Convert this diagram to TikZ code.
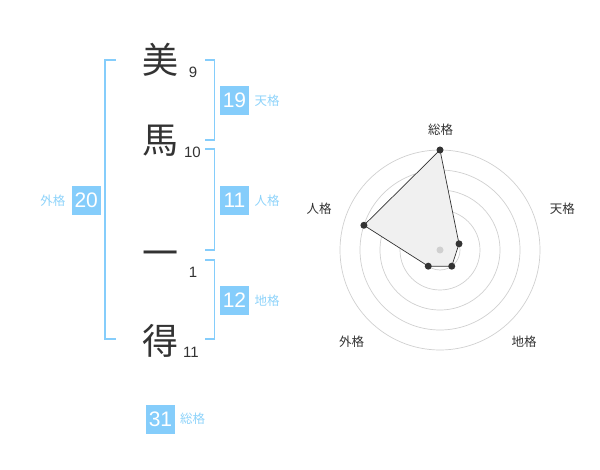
\documentclass[tikz,border=0pt]{standalone}
\usepackage{fontspec}
\setmainfont{Liberation Sans}
\newfontfamily\cjk{Noto Sans CJK JP}
\definecolor{kblue}{HTML}{85CDFB}
\definecolor{klabel}{HTML}{8ED3FA}
\definecolor{kchar}{HTML}{333333}
\definecolor{kgrid}{HTML}{D0D0D0}
\definecolor{kfill}{HTML}{F0F0F0}
\tikzset{
  kanji/.style={font=\cjk\fontsize{36}{36}\selectfont, text=kchar, inner sep=0pt},
  strokes/.style={font=\fontsize{15}{15}\selectfont, text=kchar, inner sep=0pt},
  scorebox/.style={fill=kblue, text=white, minimum width=29pt, minimum height=29pt, inner sep=0pt, font=\fontsize{21}{21}\selectfont},
  kakulabel/.style={font=\cjk\fontsize{12.5}{12.5}\selectfont, text=klabel, inner sep=0pt},
  bracket/.style={draw=kblue, line width=1.6pt},
  radarlabel/.style={font=\cjk\fontsize{12.5}{12.5}\selectfont, text=kchar, inner sep=0pt},
  gridline/.style={draw=kgrid, line width=0.7pt},
  dot/.style={circle, fill=kchar, minimum size=7pt, inner sep=0pt}
}
\begin{document}
\begin{tikzpicture}[x=1pt,y=-1pt]
\useasboundingbox (0,0) rectangle (600,470);
% characters
\node[kanji] (c1) at (160,60) {美};
\node[kanji] (c2) at (160,141) {馬};
\node[kanji] (c3) at (160,259) {一};
\node[kanji] (c4) at (160,341) {得};
\node[strokes] (n1) at (193,72) {9};
\node[strokes] (n2) at (192.5,152.5) {10};
\node[strokes] (n3) at (193,272) {1};
\node[strokes] (n4) at (191,352) {11};
% brackets
\coordinate (lt) at (115.7,60);
\coordinate (lb) at (115.7,339.3);
\draw[bracket] (lt) -- (105,60) -- (105,339.3) -- (lb);
\coordinate (t1) at (205,60);
\coordinate (t2) at (205,140);
\draw[bracket] (t1) -- (214.3,60) -- (214.3,140) -- (t2);
\coordinate (j1) at (205,149.3);
\coordinate (j2) at (205,250);
\draw[bracket] (j1) -- (214.3,149.3) -- (214.3,250) -- (j2);
\coordinate (d1) at (205,260);
\coordinate (d2) at (205,339.3);
\draw[bracket] (d1) -- (214.3,260) -- (214.3,339.3) -- (d2);
% score boxes
\node[scorebox] (b19) at (234.5,100.3) {19};
\node[kakulabel, anchor=west] (l19) at (254.3,100.3) {天格};
\node[scorebox] (b11) at (234.5,200.3) {11};
\node[kakulabel, anchor=west] (l11) at (254.3,200.3) {人格};
\node[scorebox] (b12) at (234.5,300.3) {12};
\node[kakulabel, anchor=west] (l12) at (254.3,300.3) {地格};
\node[scorebox] (b20) at (86.2,200.3) {20};
\node[kakulabel, anchor=east] (l20) at (65.5,200.3) {外格};
\node[scorebox] (b31) at (160.5,419.2) {31};
\node[kakulabel, anchor=west] (l31) at (180,419.2) {総格};
% radar
\begin{scope}[shift={(440,250)}]
  \foreach \r in {20,40,60,80,100} \draw[gridline] (0,0) circle[radius=\r];
  \coordinate (ps) at (-90:100);
  \coordinate (pt) at (-18:20);
  \coordinate (pc) at (54:20);
  \coordinate (pg) at (126:20);
  \coordinate (pj) at (-162:80);
  \filldraw[fill=kfill, draw=kchar, line width=0.7pt] (ps) -- (pt) -- (pc) -- (pg) -- (pj) -- cycle;
  \node[circle, fill=kgrid, minimum size=7pt, inner sep=0pt] (ctr) at (0,0) {};
  \foreach \p in {ps,pt,pc,pg,pj} \node[dot] at (\p) {};
\end{scope}
\node[radarlabel] (rs) at (440.7,130) {総格};
\node[radarlabel] (rt) at (562.3,208.3) {天格};
\node[radarlabel] (rj) at (319,208.3) {人格};
\node[radarlabel] (rg) at (351.7,341.7) {外格};
\node[radarlabel] (rc) at (524,341.7) {地格};
\end{tikzpicture}
\end{document}
